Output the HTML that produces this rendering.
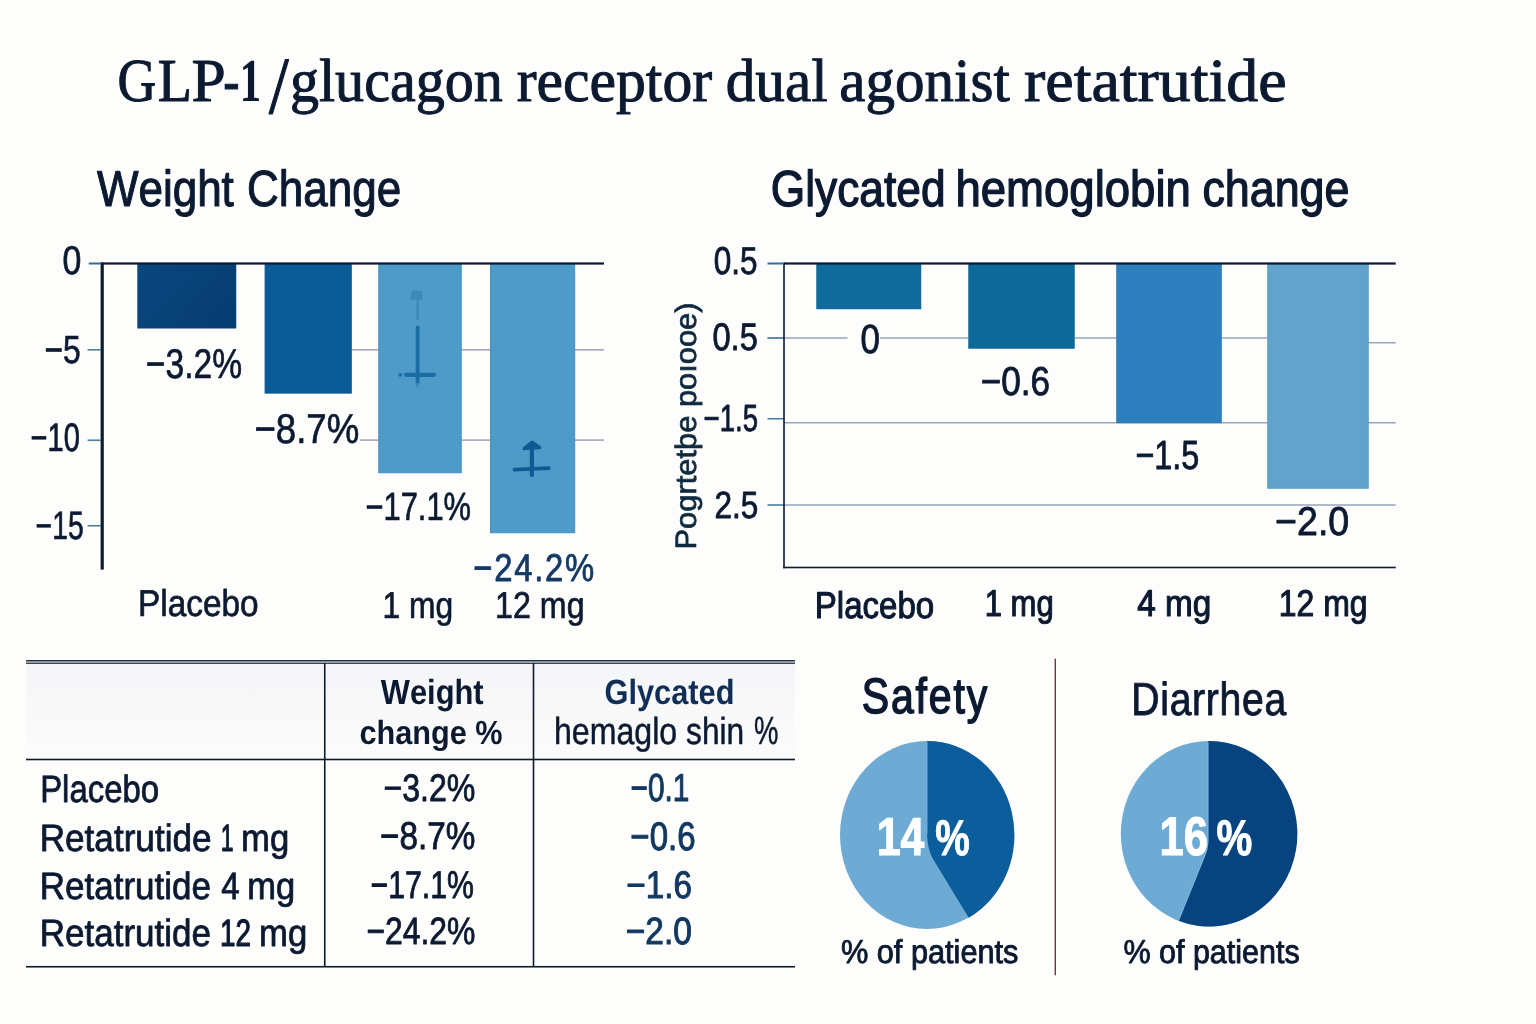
<!DOCTYPE html>
<html><head><meta charset="utf-8"><title>GLP-1/glucagon receptor dual agonist retatrutide</title>
<style>
html,body{margin:0;padding:0;background:#fdfdfc;}
body{width:1536px;height:1024px;overflow:hidden;font-family:"Liberation Sans",sans-serif;}
svg{display:block;will-change:transform;font-family:"Liberation Sans",sans-serif;font-kerning:none;text-rendering:geometricPrecision;}
</style></head><body>
<svg width="1536" height="1024" viewBox="0 0 1536 1024">
<defs>
<linearGradient id="hdr" x1="0" y1="0" x2="0" y2="1"><stop offset="0" stop-color="#f4f5f7"/><stop offset="1" stop-color="#fcfcfc"/></linearGradient>
<linearGradient id="b1" x1="0" y1="0" x2="1" y2="0.6"><stop offset="0" stop-color="#09477f"/><stop offset="1" stop-color="#073e72"/></linearGradient>
</defs>
<rect x="0" y="0" width="1536" height="1024" fill="#fdfdfc"/>

<g id="title">
<text transform="translate(117.50,100.60) scale(0.8802,1)" font-size="61.00" fill="#0c1a31" font-family="'Liberation Serif',serif" stroke="#0c1a31" stroke-width="1.0" stroke-linejoin="round">G</text>
<text transform="translate(157.67,100.60) scale(0.9174,1)" font-size="61.00" fill="#0c1a31" font-family="'Liberation Serif',serif" stroke="#0c1a31" stroke-width="1.0" stroke-linejoin="round">L</text>
<text transform="translate(191.51,100.60) scale(1.0073,1)" font-size="61.00" fill="#0c1a31" font-family="'Liberation Serif',serif" stroke="#0c1a31" stroke-width="1.0" stroke-linejoin="round">P</text>
<text transform="translate(223.24,100.60) scale(0.8008,1)" font-size="61.00" fill="#0c1a31" font-family="'Liberation Serif',serif" stroke="#0c1a31" stroke-width="1.0" stroke-linejoin="round">-</text>
<text transform="translate(289.94,100.60) scale(0.9518,1)" font-size="61.00" fill="#0c1a31" font-family="'Liberation Serif',serif" stroke="#0c1a31" stroke-width="1.0" stroke-linejoin="round">glucagon</text>
<text transform="translate(516.66,100.60) scale(0.9786,1)" font-size="61.00" fill="#0c1a31" font-family="'Liberation Serif',serif" stroke="#0c1a31" stroke-width="1.0" stroke-linejoin="round">receptor</text>
<text transform="translate(725.78,100.60) scale(0.9699,1)" font-size="61.00" fill="#0c1a31" font-family="'Liberation Serif',serif" stroke="#0c1a31" stroke-width="1.0" stroke-linejoin="round">dual</text>
<text transform="translate(839.28,100.60) scale(0.9681,1)" font-size="61.00" fill="#0c1a31" font-family="'Liberation Serif',serif" stroke="#0c1a31" stroke-width="1.0" stroke-linejoin="round">agonist</text>
<text transform="translate(1024.07,100.60) scale(1.0474,1)" font-size="61.00" fill="#0c1a31" font-family="'Liberation Serif',serif" stroke="#0c1a31" stroke-width="1.0" stroke-linejoin="round">retatrutide</text>
<text transform="translate(239.78,100.60) scale(0.7000,1)" font-size="61.00" fill="#0c1a31" font-weight="bold" font-family="'Liberation Serif',serif" stroke="#0c1a31" stroke-width="0.2" stroke-linejoin="round">1</text>
<text transform="translate(268.90,112.60) scale(0.8754,1)" font-size="81.00" fill="#0c1a31" font-family="'Liberation Serif',serif" stroke="#0c1a31" stroke-width="1.2" stroke-linejoin="round">/</text>
</g>
<text transform="translate(96.88,206.30) scale(0.8697,1)" font-size="50.60" fill="#0c1a31" stroke="#0c1a31" stroke-width="1.1" stroke-linejoin="round">Weight</text>
<text transform="translate(247.00,206.30) scale(0.8696,1)" font-size="50.60" fill="#0c1a31" stroke="#0c1a31" stroke-width="1.1" stroke-linejoin="round">Change</text>
<text transform="translate(770.79,206.30) scale(0.8751,1)" font-size="50.60" fill="#0c1a31" stroke="#0c1a31" stroke-width="1.3" stroke-linejoin="round">Glycated</text>
<text transform="translate(955.41,206.30) scale(0.9002,1)" font-size="50.60" fill="#0c1a31" stroke="#0c1a31" stroke-width="1.3" stroke-linejoin="round">hemoglobin</text>
<text transform="translate(1202.41,206.30) scale(0.8859,1)" font-size="50.60" fill="#0c1a31" stroke="#0c1a31" stroke-width="1.3" stroke-linejoin="round">change</text>
<g id="leftchart">
<rect x="352.00" y="349.00" width="26.50" height="1.60" fill="#a3a6bf"/>
<rect x="461.50" y="349.00" width="29.00" height="1.60" fill="#a3a6bf"/>
<rect x="574.50" y="349.00" width="29.50" height="1.60" fill="#a3a6bf"/>
<rect x="360.00" y="439.30" width="18.50" height="1.60" fill="#a3a6bf"/>
<rect x="461.50" y="439.30" width="29.00" height="1.60" fill="#a3a6bf"/>
<rect x="574.50" y="439.30" width="29.50" height="1.60" fill="#a3a6bf"/>
<rect x="137.30" y="263.50" width="98.95" height="65.00" fill="url(#b1)"/>
<rect x="265.10" y="264.00" width="86.15" height="129.10" fill="#095b97" stroke="#0a5792" stroke-width="1"/>
<rect x="378.75" y="264.00" width="82.50" height="208.75" fill="#4f9bc8" stroke="#4391c4" stroke-width="1"/>
<rect x="490.50" y="264.00" width="84.20" height="268.75" fill="#4f9bc8" stroke="#4391c4" stroke-width="1"/>
<rect x="100.60" y="262.50" width="3.20" height="307.10" fill="#0b1b30"/>
<rect x="101.00" y="262.40" width="503.00" height="2.20" fill="#0b1b30"/>
<rect x="88.75" y="262.50" width="12.25" height="2.00" fill="#2f6f9a"/>
<rect x="87.60" y="349.00" width="13.40" height="1.60" fill="#4d809f"/>
<rect x="87.60" y="439.45" width="13.40" height="1.60" fill="#4d809f"/>
<rect x="87.60" y="524.95" width="13.40" height="1.60" fill="#4d809f"/>
<path d="M409.3 299.8 L412.2 291.3 Q413 290.4 414.5 290.6 L421 290.8 Q422.2 291 422.3 292.5 L422.3 299.8 Z" fill="#3d89bb"/>
<rect x="416.30" y="299.00" width="2.60" height="20.50" fill="#3d89bb"/>
<path d="M417.6 327.5 V383" stroke="#1b6ba5" stroke-width="3.9" stroke-linecap="round" fill="none"/>
<rect x="416.30" y="383.00" width="2.60" height="4.50" fill="#3d89bb"/>
<path d="M406 374.8 H434" stroke="#1b6ba5" stroke-width="4.2" stroke-linecap="round" fill="none"/>
<circle cx="400.3" cy="374.9" r="1.9" fill="#1b6ba5"/>
<path d="M531.9 475 V446" stroke="#0f5a95" stroke-width="4.2" fill="none" stroke-linecap="round"/>
<path d="M524.2 448.6 L532 442.2 L539.6 447.6 Z" stroke="#0f5a95" stroke-width="3.4" fill="#0f5a95" stroke-linejoin="round"/>
<path d="M514.5 469.6 L548.8 468.2" stroke="#0f5a95" stroke-width="3.8" fill="none" stroke-linecap="round"/>
<text transform="translate(62.40,274.00) scale(0.8433,1)" font-size="40.14" fill="#0c1a31" stroke="#0c1a31" stroke-width="0.7" stroke-linejoin="round">0</text>
<text transform="translate(44.41,362.50) scale(0.8099,1)" font-size="39.28" fill="#0c1a31" stroke="#0c1a31" stroke-width="0.7" stroke-linejoin="round">−5</text>
<text transform="translate(30.55,451.25) scale(0.7298,1)" font-size="39.79" fill="#0c1a31" stroke="#0c1a31" stroke-width="0.7" stroke-linejoin="round">−10</text>
<text transform="translate(35.58,538.75) scale(0.7152,1)" font-size="39.64" fill="#0c1a31" stroke="#0c1a31" stroke-width="0.7" stroke-linejoin="round">−15</text>
<text transform="translate(145.82,377.50) scale(0.8090,1)" font-size="41.57" fill="#0c1a31" stroke="#0c1a31" stroke-width="0.7" stroke-linejoin="round">−3.2%</text>
<text transform="translate(254.42,443.00) scale(0.8804,1)" font-size="41.57" fill="#0c1a31" stroke="#0c1a31" stroke-width="0.7" stroke-linejoin="round">−8.7%</text>
<text transform="translate(365.46,519.50) scale(0.7848,1)" font-size="39.35" fill="#0c1a31" stroke="#0c1a31" stroke-width="0.7" stroke-linejoin="round">−17.1%</text>
<text transform="translate(138.08,616.25) scale(0.8943,1)" font-size="37.30" fill="#0c1a31" stroke="#0c1a31" stroke-width="0.7" stroke-linejoin="round">Placebo</text>
<text transform="translate(382.62,617.50) scale(0.8519,1)" font-size="37.30" fill="#0c1a31" stroke="#0c1a31" stroke-width="0.7" stroke-linejoin="round">1 mg</text>
<text transform="translate(495.09,617.50) scale(0.8632,1)" font-size="37.30" fill="#0c1a31" stroke="#0c1a31" stroke-width="0.7" stroke-linejoin="round">12 mg</text>
<text transform="translate(473.36,580.50) scale(0.8482,1)" font-size="38.71" fill="#153a65" stroke="#153a65" stroke-width="0.8" stroke-linejoin="round" letter-spacing="2">−24.2%</text>
</g>
<g id="rightchart">
<rect x="767.50" y="337.30" width="80.00" height="1.40" fill="#8fa0b9"/>
<rect x="880.00" y="337.30" width="88.50" height="1.40" fill="#8fa0b9"/>
<rect x="1074.50" y="337.30" width="42.00" height="1.40" fill="#8fa0b9"/>
<rect x="1221.50" y="337.30" width="46.00" height="1.40" fill="#8fa0b9"/>
<rect x="767.50" y="337.20" width="16.50" height="1.60" fill="#4d809f"/>
<rect x="1368.50" y="342.05" width="27.25" height="1.40" fill="#8fa0b9"/>
<rect x="767.50" y="417.95" width="16.50" height="1.60" fill="#4d809f"/>
<rect x="784.00" y="422.05" width="611.75" height="1.40" fill="#8fa0b9"/>
<rect x="767.50" y="504.20" width="16.50" height="1.60" fill="#4d809f"/>
<rect x="784.00" y="504.30" width="611.75" height="1.40" fill="#8fa0b9"/>
<rect x="816.25" y="263.50" width="105.00" height="45.75" fill="#0e6b9b"/>
<rect x="968.25" y="263.50" width="106.50" height="85.25" fill="#0d6997"/>
<rect x="1116.75" y="264.00" width="104.50" height="158.70" fill="#2e7fbe" stroke="#2a78b7" stroke-width="1"/>
<rect x="1267.75" y="264.00" width="100.50" height="224.25" fill="#62a3cc" stroke="#559bc9" stroke-width="1"/>
<rect x="783.20" y="262.50" width="1.60" height="305.80" fill="#0b1b30"/>
<rect x="784.00" y="262.40" width="611.75" height="2.20" fill="#0b1b30"/>
<rect x="767.50" y="262.50" width="16.50" height="2.00" fill="#2f6f9a"/>
<rect x="783.20" y="566.70" width="612.55" height="1.60" fill="#0b1b30"/>
<text transform="translate(713.74,274.00) scale(0.8134,1)" font-size="38.71" fill="#0c1a31" stroke="#0c1a31" stroke-width="0.85" stroke-linejoin="round">0.5</text>
<text transform="translate(712.44,349.75) scale(0.8508,1)" font-size="38.36" fill="#0c1a31" stroke="#0c1a31" stroke-width="0.85" stroke-linejoin="round">0.5</text>
<text transform="translate(703.62,430.50) scale(0.7293,1)" font-size="37.83" fill="#0c1a31" stroke="#0c1a31" stroke-width="0.85" stroke-linejoin="round">−1.5</text>
<text transform="translate(714.42,518.00) scale(0.8331,1)" font-size="37.86" fill="#0c1a31" stroke="#0c1a31" stroke-width="0.85" stroke-linejoin="round">2.5</text>
<text transform="translate(860.60,352.75) scale(0.8616,1)" font-size="40.50" fill="#0c1a31" stroke="#0c1a31" stroke-width="0.85" stroke-linejoin="round">0</text>
<text transform="translate(980.74,394.75) scale(0.8755,1)" font-size="40.14" fill="#0c1a31" stroke="#0c1a31" stroke-width="0.85" stroke-linejoin="round">−0.6</text>
<text transform="translate(1135.38,468.50) scale(0.7946,1)" font-size="40.72" fill="#0c1a31" stroke="#0c1a31" stroke-width="0.85" stroke-linejoin="round">−1.5</text>
<text transform="translate(1275.12,535.00) scale(0.9358,1)" font-size="40.14" fill="#0c1a31" stroke="#0c1a31" stroke-width="0.85" stroke-linejoin="round">−2.0</text>
<text transform="translate(814.86,617.50) scale(0.8847,1)" font-size="37.30" fill="#0c1a31" stroke="#0c1a31" stroke-width="1.1" stroke-linejoin="round">Placebo</text>
<text transform="translate(984.67,615.75) scale(0.8326,1)" font-size="37.30" fill="#0c1a31" stroke="#0c1a31" stroke-width="1.1" stroke-linejoin="round">1 mg</text>
<text transform="translate(1137.33,615.50) scale(0.8926,1)" font-size="37.30" fill="#0c1a31" stroke="#0c1a31" stroke-width="1.1" stroke-linejoin="round">4 mg</text>
<text transform="translate(1278.86,615.50) scale(0.8556,1)" font-size="37.30" fill="#0c1a31" stroke="#0c1a31" stroke-width="1.1" stroke-linejoin="round">12 mg</text>
<text transform="translate(696,549.47) rotate(-90) scale(1.0458,1)" font-size="29.5" fill="#0f2a3f" stroke="#0f2a3f" stroke-width="0.7">Pogrtetþe poıooe)</text>
</g>
<g id="table">
<rect x="26.00" y="663.50" width="769.00" height="95.50" fill="url(#hdr)"/>
<rect x="26.00" y="660.10" width="769.00" height="1.40" fill="#0b1b30"/>
<rect x="26.00" y="662.60" width="769.00" height="1.20" fill="#0b1b30"/>
<rect x="26.00" y="758.70" width="769.00" height="1.60" fill="#0b1b30"/>
<rect x="26.00" y="965.95" width="769.00" height="1.60" fill="#0b1b30"/>
<rect x="323.95" y="663.00" width="1.60" height="303.50" fill="#0b1b30"/>
<rect x="532.70" y="663.00" width="1.60" height="303.50" fill="#0b1b30"/>
<text transform="translate(380.75,703.75) scale(0.8830,1)" font-size="34.97" fill="#0c1a31" font-weight="bold">Weight</text>
<text transform="translate(359.52,743.75) scale(0.9150,1)" font-size="33.50" fill="#0c1a31" font-weight="bold">change %</text>
<text transform="translate(604.52,703.75) scale(0.8799,1)" font-size="34.97" fill="#112f56" font-weight="bold">Glycated</text>
<text transform="translate(554.00,743.75) scale(0.8515,1)" font-size="37.72" fill="#0c1a31" stroke="#0c1a31" stroke-width="0.5" stroke-linejoin="round">hemaglo</text>
<text transform="translate(686.05,743.75) scale(0.8403,1)" font-size="37.72" fill="#0c1a31" stroke="#0c1a31" stroke-width="0.5" stroke-linejoin="round">shin</text>
<text transform="translate(754.04,743.75) scale(0.6973,1)" font-size="39.35" fill="#0c1a31" stroke="#0c1a31" stroke-width="0.5" stroke-linejoin="round">%</text>
<text transform="translate(40.17,801.75) scale(0.8638,1)" font-size="38.10" fill="#0c1a31" stroke="#0c1a31" stroke-width="0.8" stroke-linejoin="round">Placebo</text>
<text transform="translate(39.69,850.75) scale(0.9226,1)" font-size="38.10" fill="#0c1a31" stroke="#0c1a31" stroke-width="0.8" stroke-linejoin="round">Retatrutide</text>
<text transform="translate(220.78,850.75) scale(0.6034,1)" font-size="38.10" fill="#0c1a31" stroke="#0c1a31" stroke-width="1.2" stroke-linejoin="round">1</text>
<text transform="translate(240.99,850.75) scale(0.9113,1)" font-size="38.10" fill="#0c1a31" stroke="#0c1a31" stroke-width="0.8" stroke-linejoin="round">mg</text>
<text transform="translate(39.70,898.75) scale(0.9199,1)" font-size="38.10" fill="#0c1a31" stroke="#0c1a31" stroke-width="0.8" stroke-linejoin="round">Retatrutide</text>
<text transform="translate(221.34,898.75) scale(0.8706,1)" font-size="38.10" fill="#0c1a31" stroke="#0c1a31" stroke-width="0.8" stroke-linejoin="round">4</text>
<text transform="translate(247.26,898.75) scale(0.9061,1)" font-size="38.10" fill="#0c1a31" stroke="#0c1a31" stroke-width="0.8" stroke-linejoin="round">mg</text>
<text transform="translate(39.70,946.00) scale(0.9199,1)" font-size="38.10" fill="#0c1a31" stroke="#0c1a31" stroke-width="0.8" stroke-linejoin="round">Retatrutide</text>
<text transform="translate(219.91,946.00) scale(0.7328,1)" font-size="38.10" fill="#0c1a31" stroke="#0c1a31" stroke-width="1.2" stroke-linejoin="round">12</text>
<text transform="translate(258.99,946.00) scale(0.9113,1)" font-size="38.10" fill="#0c1a31" stroke="#0c1a31" stroke-width="0.8" stroke-linejoin="round">mg</text>
<text transform="translate(383.39,800.75) scale(0.8370,1)" font-size="38.36" fill="#0c1a31" stroke="#0c1a31" stroke-width="0.85" stroke-linejoin="round">−3.2%</text>
<text transform="translate(380.09,849.25) scale(0.8595,1)" font-size="38.71" fill="#0c1a31" stroke="#0c1a31" stroke-width="0.85" stroke-linejoin="round">−8.7%</text>
<text transform="translate(370.49,897.50) scale(0.7839,1)" font-size="38.63" fill="#0c1a31" stroke="#0c1a31" stroke-width="0.85" stroke-linejoin="round">−17.1%</text>
<text transform="translate(366.41,944.25) scale(0.8384,1)" font-size="38.00" fill="#0c1a31" stroke="#0c1a31" stroke-width="0.85" stroke-linejoin="round">−24.2%</text>
<text transform="translate(630.51,801.25) scale(0.7624,1)" font-size="39.07" fill="#133961" stroke="#133961" stroke-width="1.0" stroke-linejoin="round">−0.1</text>
<text transform="translate(630.35,850.00) scale(0.8300,1)" font-size="39.79" fill="#133961" stroke="#133961" stroke-width="1.0" stroke-linejoin="round">−0.6</text>
<text transform="translate(626.34,897.50) scale(0.8679,1)" font-size="38.36" fill="#133961" stroke="#133961" stroke-width="1.0" stroke-linejoin="round">−1.6</text>
<text transform="translate(625.83,944.25) scale(0.8807,1)" font-size="38.00" fill="#133961" stroke="#133961" stroke-width="1.0" stroke-linejoin="round">−2.0</text>
</g>
<g id="pies">
<rect x="1054.60" y="658.75" width="1.30" height="316.50" fill="#64261f"/>
<text transform="translate(861.75,712.50) scale(0.8244,1)" font-size="49.79" fill="#0c1a31" stroke="#0c1a31" stroke-width="1.5" stroke-linejoin="round" letter-spacing="2.2">Safety</text>
<text transform="translate(1131.37,714.50) scale(0.8445,1)" font-size="46.34" fill="#0c1a31" stroke="#0c1a31" stroke-width="0.9" stroke-linejoin="round" letter-spacing="0.8">Diarrhea</text>
<ellipse cx="926.9" cy="835" rx="86.9" ry="94" fill="#6eabd4"/>
<path d="M927 741 L927 834 Q927.6 850 933 859 L968.75 917.75 A86.9 94 0 0 0 927 741 Z" fill="#0c5d9c"/>
<ellipse cx="1208.9" cy="833.75" rx="88.1" ry="92.75" fill="#6eabd4"/>
<path d="M1208.25 741 L1208.25 842 Q1208 850 1203.75 859 L1178.75 920.75 A88.1 92.75 0 1 0 1208.25 741 Z" fill="#07447f"/>
<path d="M927.2 742 V834" stroke="#7fb6dd" stroke-width="0.9" opacity="0.7" fill="none"/>
<path d="M1208 742 V842 Q1207.8 850 1203.5 859 L1178.9 919.8" stroke="#86bbe0" stroke-width="1" opacity="0.75" fill="none"/>
<text transform="translate(876.63,855.40) scale(0.7995,1)" font-size="53.62" fill="#ffffff" font-weight="bold" stroke="#ffffff" stroke-width="1.0" stroke-linejoin="round">14</text>
<text transform="translate(935.23,855.40) scale(0.7762,1)" font-size="50.00" fill="#ffffff" font-weight="bold" stroke="#ffffff" stroke-width="1.0" stroke-linejoin="round">%</text>
<text transform="translate(1159.58,855.40) scale(0.7998,1)" font-size="54.57" fill="#ffffff" font-weight="bold" stroke="#ffffff" stroke-width="1.0" stroke-linejoin="round">16</text>
<text transform="translate(1216.49,855.40) scale(0.8048,1)" font-size="50.00" fill="#ffffff" font-weight="bold" stroke="#ffffff" stroke-width="1.0" stroke-linejoin="round">%</text>
<text transform="translate(840.93,963.25) scale(0.9306,1)" font-size="33.00" fill="#0c1a31" stroke="#0c1a31" stroke-width="0.9" stroke-linejoin="round">% of patients</text>
<text transform="translate(1123.43,963.25) scale(0.9239,1)" font-size="33.00" fill="#0c1a31" stroke="#0c1a31" stroke-width="0.9" stroke-linejoin="round">% of patients</text>
</g>
</svg></body></html>
